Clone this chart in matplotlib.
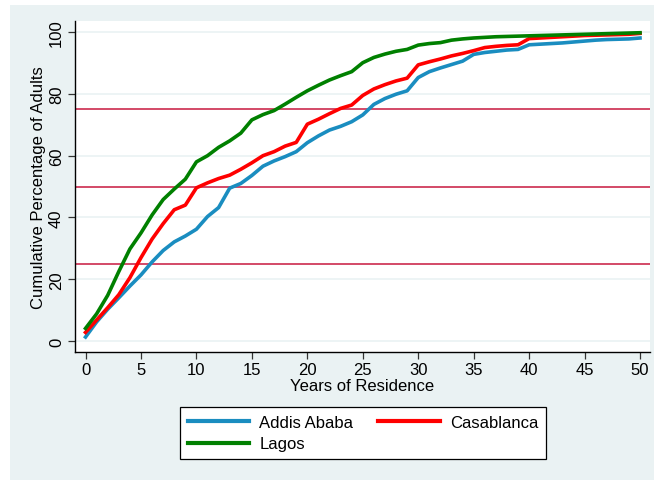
import matplotlib
matplotlib.use("Agg")
import matplotlib.pyplot as plt
from matplotlib.patches import Rectangle

plt.rcParams["font.family"] = ["Liberation Sans", "DejaVu Sans"]

years = list(range(0, 51))

addis_ababa = [1.3, 6.2, 10.3, 14.0, 17.8, 21.4, 25.6, 29.3, 32.1, 34.0,
               36.2, 40.3, 43.2, 49.5, 51.0, 53.6, 56.6, 58.3, 59.7, 61.3,
               64.2, 66.4, 68.3, 69.5, 71.0, 73.2, 76.6, 78.5, 79.9, 81.0,
               85.3, 87.2, 88.4, 89.5, 90.6, 92.8, 93.4, 93.8, 94.2, 94.4,
               95.9, 96.1, 96.3, 96.5, 96.8, 97.1, 97.4, 97.6, 97.7, 97.8,
               98.1]

casablanca = [2.8, 6.8, 10.8, 15.0, 20.5, 27.0, 33.0, 38.0, 42.5, 44.0,
              49.6, 51.2, 52.6, 53.7, 55.6, 57.7, 60.0, 61.3, 63.1, 64.3,
              70.2, 71.8, 73.6, 75.3, 76.4, 79.5, 81.6, 83.0, 84.2, 85.1,
              89.4, 90.4, 91.3, 92.3, 93.1, 94.0, 95.0, 95.4, 95.7, 95.9,
              97.9, 98.1, 98.3, 98.5, 98.7, 98.9, 99.0, 99.1, 99.2, 99.3,
              99.6]

lagos = [4.1, 8.8, 14.8, 22.5, 29.8, 35.0, 40.8, 45.8, 49.2, 52.4,
         58.0, 60.0, 62.7, 64.8, 67.3, 71.6, 73.3, 74.6, 76.7, 78.9,
         81.0, 82.8, 84.5, 85.9, 87.2, 90.1, 91.8, 92.9, 93.8, 94.4,
         95.8, 96.3, 96.6, 97.4, 97.8, 98.1, 98.3, 98.5, 98.6, 98.7,
         98.8, 98.9, 99.0, 99.1, 99.2, 99.3, 99.4, 99.5, 99.6, 99.7,
         99.8]

quartiles = [25, 50, 75]
x_ticks = list(range(0, 51, 5))
y_ticks = list(range(0, 101, 20))

W, H = 654, 481
fig = plt.figure(figsize=(W / 100, H / 100), dpi=100)
fig.patch.set_facecolor("white")

# light graph-region background
bg = "#EAF2F3"
fig.patches.append(Rectangle((10 / W, 0), 1 - 10 / W, 1 - 6 / H,
                             transform=fig.transFigure, facecolor=bg,
                             edgecolor="none", zorder=-10))

ax = fig.add_axes([75 / W, 1 - 353 / H, 575 / W, 331 / H])
ax.set_facecolor("white")

ax.set_xlim(-0.95, 50.9)
ax.set_ylim(-3.55, 103.6)

for s in ("top", "right"):
    ax.spines[s].set_visible(False)
for s in ("left", "bottom"):
    ax.spines[s].set_color("black")
    ax.spines[s].set_linewidth(1.0)

ax.set_yticks(y_ticks)
ax.set_xticks(x_ticks)
ax.tick_params(axis="both", direction="out", length=5, width=0.9,
               color="#333333", labelsize=12)
ax.tick_params(axis="y", pad=3)
ax.tick_params(axis="x", pad=2)
for lab in ax.get_yticklabels():
    lab.set_rotation(90)
    lab.set_va("center")

ax.yaxis.grid(True, color=bg, linewidth=1.2)
ax.set_axisbelow(True)

for q in quartiles:
    ax.axhline(q, color="#C8173F", linewidth=1.1, zorder=1.5)

lw = 2.6
ax.plot(years, addis_ababa, color="#1A8DC0", linewidth=lw,
        label="Addis Ababa", zorder=2, solid_joinstyle="round")
ax.plot(years, casablanca, color="#FF0000", linewidth=lw,
        label="Casablanca", zorder=2.1, solid_joinstyle="round")
ax.plot(years, lagos, color="#008000", linewidth=lw,
        label="Lagos", zorder=2.2, solid_joinstyle="round")

ax.set_xlabel("Years of Residence", fontsize=12, labelpad=1)
ax.set_ylabel("Cumulative Percentage of Adults", fontsize=12, labelpad=2)

handles, labels = ax.get_legend_handles_labels()
order = [0, 2, 1]
leg = fig.legend([handles[i] for i in order], [labels[i] for i in order],
                 ncol=2, loc="center",
                 bbox_to_anchor=((179 + 547) / 2 / W, 1 - (407 + 461) / 2 / H),
                 frameon=True, fancybox=False, fontsize=12,
                 handlelength=3.7, handletextpad=0.6, columnspacing=1.5,
                 labelspacing=0.4, borderpad=0.45)
frame = leg.get_frame()
frame.set_edgecolor("black")
frame.set_linewidth(0.9)
frame.set_facecolor("white")
frame.set_alpha(1)
for h in leg.get_lines():
    h.set_linewidth(3.0)

fig.savefig("out.png", dpi=100, facecolor=fig.get_facecolor())
